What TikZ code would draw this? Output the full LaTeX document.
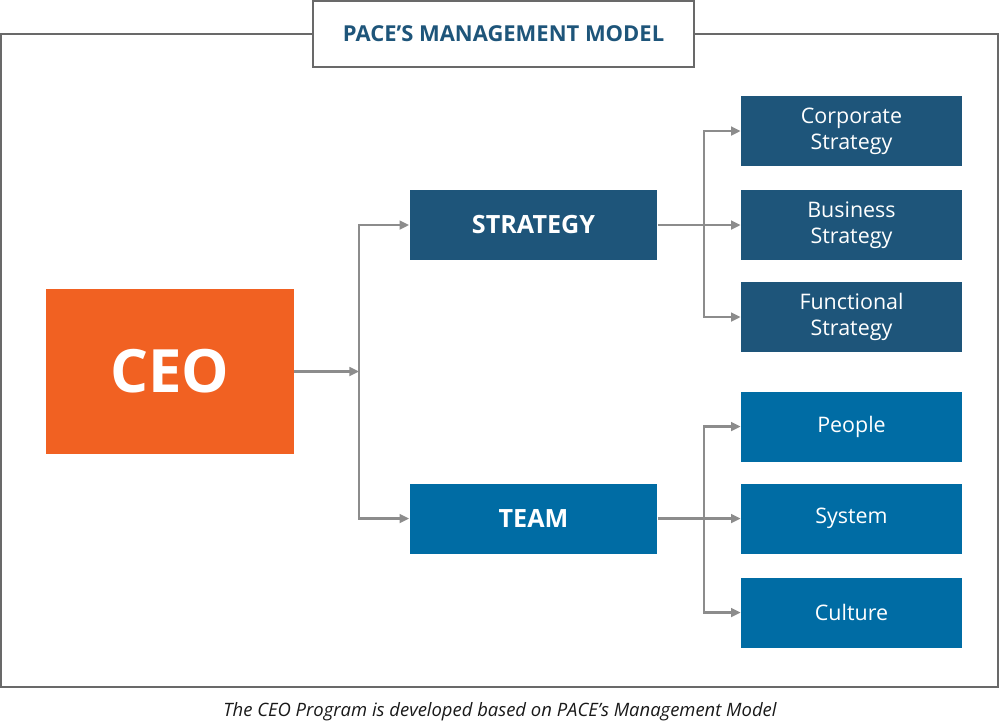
\documentclass[tikz,border=0pt]{standalone}
\usepackage{fontspec}
\setmainfont{Open Sans}
\usetikzlibrary{arrows.meta,positioning,calc}
\definecolor{pacedark}{RGB}{30,85,122}
\definecolor{paceblue}{RGB}{0,108,164}
\definecolor{paceorange}{RGB}{241,97,34}
\definecolor{pacegray}{RGB}{140,140,140}
\definecolor{paceframe}{RGB}{105,105,105}
\tikzset{
    box/.style={inner sep=0pt,minimum width=4.96cm,minimum height=1.4cm,text=white,align=center},
    subbox/.style={box,minimum width=4.42cm,font=\fontsize{12.2}{14.7}\selectfont},
    link/.style={draw=pacegray,line width=1.3pt},
    arrow/.style={link,-{Triangle[length=5.5pt,width=5pt]}}
}

\begin{document}
\begin{tikzpicture}[x=0.02cm,y=-0.02cm]
    \useasboundingbox (0,0) rectangle (1000,725);
    % outer frame and title
    \draw[paceframe,line width=1pt] (1,34) rectangle (998,687);
    \node[draw=paceframe,line width=1pt,fill=white,minimum width=7.62cm,minimum height=1.32cm,inner sep=0pt,
          text=pacedark,font=\bfseries\fontsize{12.5}{15}\selectfont] (title) at (503.5,34) {PACE’S MANAGEMENT MODEL};
    % main boxes
    \node[box,fill=paceorange,minimum height=3.3cm,font=\bfseries\fontsize{34}{40}\selectfont] (ceo) at (170,371.5) {CEO};
    \node[box,fill=pacedark,font=\bfseries\fontsize{14.3}{17}\selectfont] (strategy) at (533.5,225) {STRATEGY};
    \node[box,fill=paceblue,font=\bfseries\fontsize{14.3}{17}\selectfont] (team) at (533.5,518.5) {TEAM};
    % strategy branch
    \node[subbox,fill=pacedark] (corporate) at (851.5,131) {Corporate\\Strategy};
    \node[subbox,fill=pacedark] (business) at (851.5,225) {Business\\Strategy};
    \node[subbox,fill=pacedark] (functional) at (851.5,317) {Functional\\Strategy};
    % team branch
    \node[subbox,fill=paceblue] (people) at (851.5,426.5) {People};
    \node[subbox,fill=paceblue] (system) at (851.5,518.5) {System};
    \node[subbox,fill=paceblue] (culture) at (851.5,612.5) {Culture};
    % connectors
    \coordinate (ceojoin) at (359,371.5);
    \draw[arrow] (ceo.east) -- (ceojoin);
    \draw[arrow] (ceojoin) |- (strategy.west);
    \draw[arrow] (ceojoin) |- (team.west);
    \coordinate (stratjoin) at (704,225);
    \draw[arrow] (strategy.east) -- (business.west);
    \draw[arrow] (stratjoin) |- (corporate.west);
    \draw[arrow] (stratjoin) |- (functional.west);
    \coordinate (teamjoin) at (704,518.5);
    \draw[arrow] (team.east) -- (system.west);
    \draw[arrow] (teamjoin) |- (people.west);
    \draw[arrow] (teamjoin) |- (culture.west);
    % caption
    \node[font=\itshape\fontsize{10.5}{12}\selectfont,text=black!90] (caption) at (500,712) {The CEO Program is developed based on PACE’s Management Model};
\end{tikzpicture}
\end{document}
